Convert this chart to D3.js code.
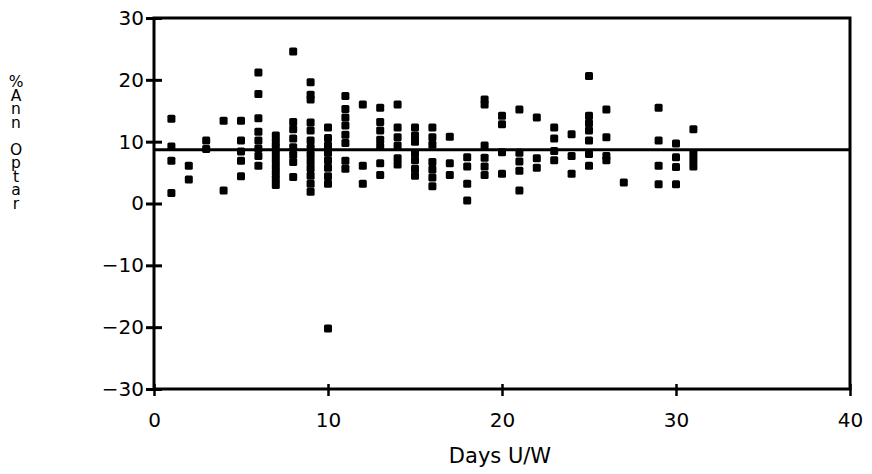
<!DOCTYPE html>
<html>
<head>
<meta charset="utf-8">
<script src="https://cdnjs.cloudflare.com/ajax/libs/d3/7.8.5/d3.min.js"></script>
<style>
  body { margin: 0; background: #fff; }
  svg { display: block; }
  text { font-family: "DejaVu Sans", Verdana, sans-serif; fill: #000; }
</style>
</head>
<body>
<svg></svg>
<script>
const W = 872, H = 474;

const days = [1, 2, 3, 4, 5, 6, 7, 8, 9, 10, 11, 12, 13, 14, 15, 16, 17, 18,
              19, 20, 21, 22, 23, 24, 25, 26, 27, 29, 30, 31];
const pctByDay = [
    [13.7, 9.2, 6.9, 1.7],
    [6.1, 3.9],
    [10.2, 8.8],
    [13.4, 2.1],
    [13.4, 10.2, 8.4, 6.9, 4.4],
    [21.2, 17.7, 13.8, 11.6, 10.2, 8.9, 7.7, 6.1],
    [11, 10, 9, 8, 7, 6, 5, 4, 3],
    [24.6, 13.2, 12, 10.5, 9.1, 7.9, 6.7, 4.3],
    [19.6, 17.6, 16.8, 13.1, 11.8, 10.2, 9, 7.9, 6.8, 5.7, 4.5, 3.2, 1.9],
    [12.3, 10.6, 9.4, 8.2, 7, 5.8, 4.4, 3.2, -20.2],
    [17.4, 15.3, 13.9, 12.6, 11.1, 9.8, 6.9, 5.6],
    [16, 6.1, 3.2],
    [15.5, 13.2, 11.8, 10.3, 9.2, 6.5, 4.6],
    [16, 12.3, 10.7, 9.4, 7.3, 6.3],
    [12.3, 11, 10, 8.1, 7, 5.6, 4.5],
    [12.3, 10.7, 9.5, 6.7, 5.5, 4.2, 2.8],
    [10.8, 6.5, 4.6],
    [7.5, 6, 3.2, 0.5],
    [16.8, 16, 9.4, 7.4, 6, 4.6],
    [14.2, 12.8, 8.3, 4.8],
    [15.2, 8.2, 6.8, 5.3, 2.1],
    [13.9, 7.3, 5.8],
    [12.3, 10.5, 8.5, 7],
    [11.2, 7.7, 4.8],
    [20.6, 14.2, 13, 11.8, 10.2, 8, 6.1],
    [15.2, 10.7, 7.7, 7],
    [3.4],
    [15.5, 10.2, 6.1, 3.1],
    [9.7, 7.5, 5.9, 3.1],
    [12, 8, 7, 6]
];
const refLine = 8.7;
const xTicks = [0, 10, 20, 30, 40];
const yTicks = [30, 20, 10, 0, -10, -20, -30];
const xTitle = 'Days U/W';
const yTitle = '%Ann Optar';

const points = [];
days.forEach((d, i) => {
    pctByDay[i].forEach(v => points.push({ day: d, pct: v }));
});

const plotL = 154, plotR = 850, plotT = 18, plotB = 389;
const FONT = '"DejaVu Sans", Verdana, sans-serif';

let svg = d3.select('svg')
    .attr('width', W)
    .attr('height', H);

let x = d3.scaleLinear().domain([0, 40]).range([plotL, plotR]);
let y = d3.scaleLinear().domain([-30, 30]).range([plotB, plotT]);

// frame
svg.append('rect')
    .attr('x', plotL)
    .attr('y', plotT)
    .attr('width', plotR - plotL)
    .attr('height', plotB - plotT)
    .attr('fill', 'none')
    .attr('stroke', '#000')
    .attr('stroke-width', 3);

// y axis, ticks cross the line
let yAxis = svg.append('g')
    .attr('transform', `translate(${plotL},0)`)
    .call(d3.axisLeft(y).tickValues(yTicks).tickSize(8).tickPadding(4));
yAxis.select('.domain').remove();
yAxis.selectAll('.tick line')
    .attr('x1', 8)
    .attr('x2', -8)
    .attr('stroke-width', 3);
yAxis.selectAll('.tick text')
    .attr('x', -10)
    .style('font-size', '20px')
    .style('font-family', FONT);

// x axis
let xAxis = svg.append('g')
    .attr('transform', `translate(0,${plotB})`)
    .call(d3.axisBottom(x).tickValues(xTicks).tickSize(7).tickPadding(17));
xAxis.select('.domain').remove();
xAxis.selectAll('.tick line')
    .attr('y1', -5)
    .attr('stroke-width', 2.5);
xAxis.selectAll('.tick text')
    .style('font-size', '20px')
    .style('font-family', FONT);

// reference line
svg.append('line')
    .attr('x1', plotL)
    .attr('x2', plotR)
    .attr('y1', y(refLine))
    .attr('y2', y(refLine))
    .attr('stroke', '#000')
    .attr('stroke-width', 3);

// points
const s = 8;
svg.append('g')
    .selectAll('rect')
    .data(points)
    .enter()
    .append('rect')
        .attr('x', d => x(d.day) - s / 2)
        .attr('y', d => y(d.pct) - s / 2)
        .attr('width', s)
        .attr('height', s)
        .attr('rx', 1.5)
        .attr('fill', '#000');

// titles
svg.append('text')
    .attr('x', 500)
    .attr('y', 463)
    .attr('text-anchor', 'middle')
    .style('font-size', '21px')
    .text(xTitle);

// stacked upright y title, one text element squeezed to the original height
svg.append('text')
    .attr('x', 16)
    .attr('y', 73)
    .attr('textLength', 140)
    .attr('lengthAdjust', 'spacing')
    .style('writing-mode', 'vertical-lr')
    .style('text-orientation', 'upright')
    .style('font-size', '15.5px')
    .text(yTitle);
</script>
</body>
</html>
